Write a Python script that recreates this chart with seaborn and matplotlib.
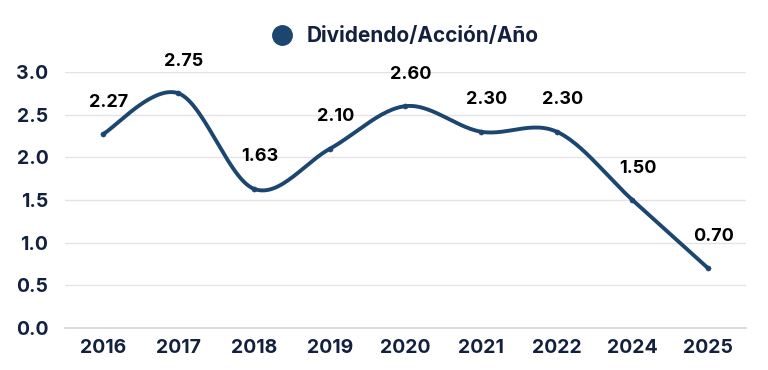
"""
Dividendo por acción por año: línea suavizada con etiquetas de valor.
"""

import numpy as np
import pandas as pd
import matplotlib
matplotlib.use('Agg')
import matplotlib.pyplot as plt
import seaborn as sns


# ── Data ───────────────────────────────────────────────────────────────────────

years     = ['2016', '2017', '2018', '2019', '2020', '2021', '2022', '2024', '2025']
dividends = [2.27, 2.75, 1.63, 2.10, 2.60, 2.30, 2.30, 1.50, 0.70]
y_ticks   = [0.0, 0.5, 1.0, 1.5, 2.0, 2.5, 3.0]
series    = 'Dividendo/Acción/Año'

NAVY = '#1c4670'
TEXT = '#13213f'


# ── Helpers ────────────────────────────────────────────────────────────────────

def smooth_curve(xs, ys, steps=30, tension=1 / 6):
    """Cardinal (Catmull-Rom style) Bezier through the points, like an Excel smoothed line."""
    xs, ys = np.asarray(xs, float), np.asarray(ys, float)
    px = np.concatenate([[xs[0]], xs, [xs[-1]]])
    py = np.concatenate([[ys[0]], ys, [ys[-1]]])
    out_x, out_y = [], []
    t = np.linspace(0, 1, steps)
    for i in range(1, len(px) - 2):
        p0 = np.array([px[i], py[i]])
        p3 = np.array([px[i + 1], py[i + 1]])
        c1 = p0 + tension * (np.array([px[i + 1], py[i + 1]]) - np.array([px[i - 1], py[i - 1]]))
        c2 = p3 - tension * (np.array([px[i + 2], py[i + 2]]) - np.array([px[i], py[i]]))
        b = ((1 - t) ** 3)[:, None] * p0 + (3 * (1 - t) ** 2 * t)[:, None] * c1 \
            + (3 * (1 - t) * t ** 2)[:, None] * c2 + (t ** 3)[:, None] * p3
        out_x.extend(b[:, 0])
        out_y.extend(b[:, 1])
    return np.array(out_x), np.array(out_y)


# ── Plot ───────────────────────────────────────────────────────────────────────

sns.set_style('white')
plt.rcParams['font.family'] = ['Inter', 'DejaVu Sans']

df = pd.DataFrame({'x': np.arange(len(years)), 'y': dividends})
cx, cy = smooth_curve(df['x'], df['y'])
curve = pd.DataFrame({'x': cx, 'y': cy})

fig = plt.figure(figsize=(7.68, 3.70), dpi=100)
ax = fig.add_axes([0.0846, 0.1135, 0.8867, 0.6919])

sns.lineplot(data=curve, x='x', y='y', ax=ax, color=NAVY, linewidth=2.8,
             sort=False, estimator=None, clip_on=False, zorder=3)
sns.scatterplot(data=df, x='x', y='y', ax=ax, color=NAVY, s=14,
                edgecolor=NAVY, zorder=4, clip_on=False)

for xi, yi in zip(df['x'], df['y']):
    ax.annotate(f'{yi:.2f}', (xi, yi), xytext=(4, 23), textcoords='offset points',
                ha='center', va='center', fontsize=13, fontweight='bold', color='black')

ax.set_xlim(-0.5, len(years) - 0.5)
ax.set_ylim(0, 3.0)
ax.set_yticks(y_ticks)
ax.set_yticklabels([f'{v:.1f}' for v in y_ticks])
ax.set_xticks(df['x'])
ax.set_xticklabels(years)
ax.tick_params(axis='both', length=0, labelsize=14, labelcolor=TEXT, pad=8)
for lab in ax.get_xticklabels() + ax.get_yticklabels():
    lab.set_fontweight('bold')
ax.tick_params(axis='y', pad=12)

ax.grid(axis='y', color='#e4e4e4', linewidth=1)
ax.set_axisbelow(True)
for side in ['top', 'right', 'left']:
    ax.spines[side].set_visible(False)
ax.spines['bottom'].set_color('#d4d4d8')
ax.spines['bottom'].set_linewidth(1.2)
ax.set_xlabel('')
ax.set_ylabel('')

handle = plt.Line2D([], [], marker='o', linestyle='none', markersize=14,
                    markerfacecolor=NAVY, markeredgecolor=NAVY)
leg = fig.legend([handle], [series], loc='center', bbox_to_anchor=(0.521, 0.903),
                 frameon=False, handletextpad=0.2, prop={'weight': 'bold', 'size': 15})
for txt in leg.get_texts():
    txt.set_color(TEXT)

fig.savefig('out.png', dpi=100)
